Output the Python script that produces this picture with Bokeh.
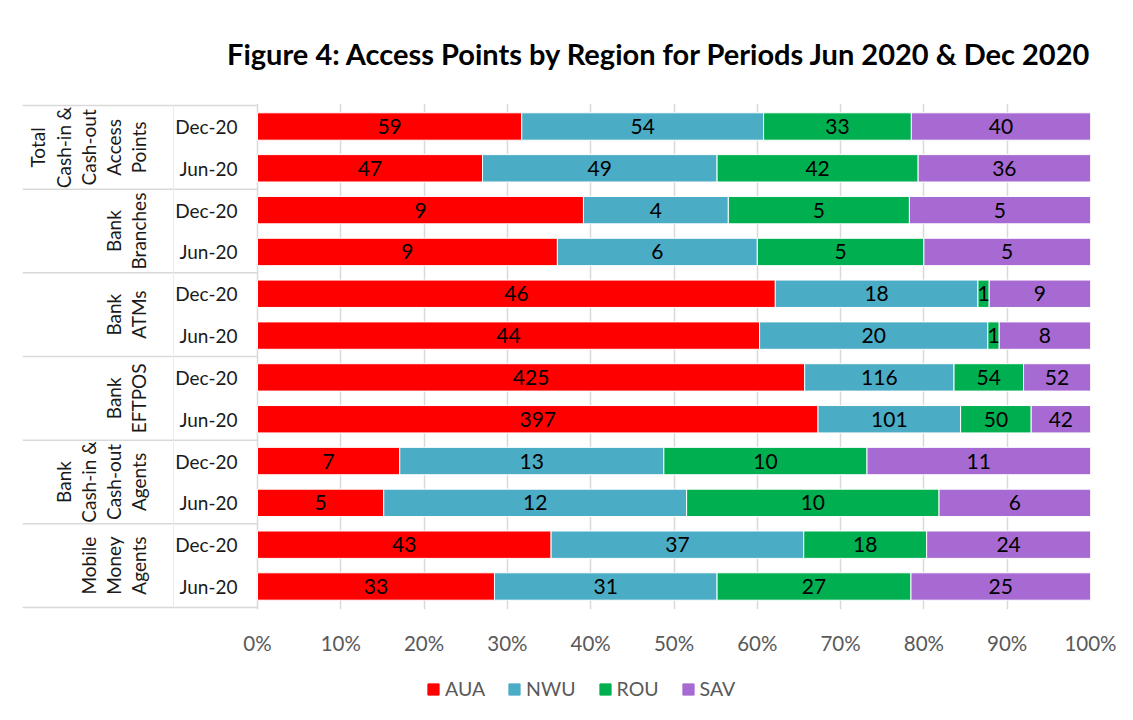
import numpy as np
from bokeh.plotting import figure
from bokeh.layouts import column
from bokeh.models import (ColumnDataSource, Range1d, FixedTicker, NumeralTickFormatter,
                          Legend, LegendItem)
from bokeh.core.properties import value
from bokeh.embed import file_html
from bokeh.resources import INLINE

# ---------------- data ----------------
groups = ["Total\nCash-in &\nCash-out\nAccess\nPoints", "Bank\nBranches", "Bank\nATMs",
          "Bank\nEFTPOS", "Bank\nCash-in &\nCash-out\nAgents", "Mobile\nMoney\nAgents"]
periods = ["Dec-20", "Jun-20"]
regions = ["AUA", "NWU", "ROU", "SAV"]
AUA = [59, 47, 9, 9, 46, 44, 425, 397, 7, 5, 43, 33]
NWU = [54, 49, 4, 6, 18, 20, 116, 101, 13, 12, 37, 31]
ROU = [33, 42, 5, 5, 1, 1, 54, 50, 10, 10, 18, 27]
SAV = [40, 36, 5, 5, 9, 8, 52, 42, 11, 6, 24, 25]
x_ticks = [0, 0.1, 0.2, 0.3, 0.4, 0.5, 0.6, 0.7, 0.8, 0.9, 1.0]
colors = ["#FF0000", "#4BACC6", "#00B050", "#A66AD2"]

FONT = "Lato"
series = [AUA, NWU, ROU, SAV]
n = len(AUA)
totals = np.array(AUA) + np.array(NWU) + np.array(ROU) + np.array(SAV)
row_y = [n - i - 0.5 for i in range(n)]
row_labels = [periods[i % 2] for i in range(n)]

data = {"y": row_y}
for r, s in zip(regions, series):
    data[r] = list(np.array(s) / totals)
src = ColumnDataSource(data)

x0 = -(257 - 22) / 833.0
p = figure(frame_width=1068, frame_height=506, output_backend="svg", toolbar_location=None,
           x_range=Range1d(x0, 1.0), y_range=Range1d(-0.05, n + 0.05),
           min_border_left=22, min_border_right=43, min_border_top=103, min_border_bottom=61)
p.outline_line_color = None
p.background_fill_color = "white"
p.border_fill_color = "white"

# title
p.title.text = "Figure 4:  Access Points by Region for Periods Jun 2020 & Dec 2020"
p.title.text_font = FONT
p.title.text_font_size = "29px"
p.title.text_font_style = "bold"
p.title.text_color = "black"
p.title.align = "right"
p.title.offset = -9
p.title.standoff = 66

# bars
rends = p.hbar_stack(regions, y="y", height=0.655, color=colors, source=src,
                     line_color="white", line_width=1)

# value labels
cum = np.zeros(n)
for r, s in zip(regions, series):
    frac = np.array(s) / totals
    lsrc = ColumnDataSource(dict(x=cum + frac / 2, y=row_y, t=[str(v) for v in s]))
    p.text(x="x", y="y", text="t", source=lsrc, text_font=value(FONT),
           text_font_size="21px", text_align="center", text_baseline="middle",
           text_color="black")
    cum = cum + frac

# period labels
psrc = ColumnDataSource(dict(x=[(237 - 257) / 833.0] * n, y=row_y, t=row_labels))
p.text(x="x", y="y", text="t", source=psrc, text_font=value(FONT), text_font_size="19px",
       text_align="right", text_baseline="middle", text_color="#1a1a1a")

# group labels (rotated, multi-line)
gy = [n - 2 * g - 1 for g in range(len(groups))]
gsrc = ColumnDataSource(dict(x=[(150 - 257) / 833.0] * len(groups), y=gy, t=groups))
p.text(x="x", y="y", text="t", source=gsrc, angle=np.pi / 2, text_font=value(FONT),
       text_font_size="19px", text_align="center", text_baseline="bottom",
       text_line_height=1.1, text_color="#1a1a1a")

# separator lines of the category axis
sep_y = [n - 2 * g for g in range(len(groups) + 1)]
p.segment(x0=[x0] * len(sep_y), x1=[0] * len(sep_y), y0=sep_y, y1=sep_y,
          line_color="#d9d9d9", line_width=1.5)
p.segment(x0=[(173 - 257) / 833.0], x1=[(173 - 257) / 833.0], y0=[0], y1=[n],
          line_color="#ececec", line_width=1)

# axes
p.yaxis.visible = False
p.ygrid.grid_line_color = None
p.xaxis.ticker = FixedTicker(ticks=x_ticks)
p.xaxis.formatter = NumeralTickFormatter(format="0%")
p.xaxis.axis_line_color = None
p.xaxis.major_tick_line_color = None
p.xaxis.minor_tick_line_color = None
p.xaxis.major_tick_out = 0
p.xaxis.major_label_standoff = 21
p.xaxis.major_label_text_font = FONT
p.xaxis.major_label_text_font_size = "20.5px"
p.xaxis.major_label_text_color = "#595959"
p.xgrid.ticker = FixedTicker(ticks=x_ticks)
p.xgrid.grid_line_color = "#d9d9d9"
p.xgrid.grid_line_width = 1.5

# legend strip (separate small figure below the chart)
lg = figure(width=1133, height=50, output_backend="svg", toolbar_location=None,
            x_range=Range1d(0, 1), y_range=Range1d(0, 1),
            min_border_left=0, min_border_right=0, min_border_top=0, min_border_bottom=0)
lg.axis.visible = False
lg.grid.visible = False
lg.outline_line_color = None
lg.border_fill_color = "white"
items = []
for r, c in zip(regions, colors):
    # legend swatch renderer: a single bar kept outside the visible range
    rd = lg.hbar(y=[-5], left=[0], right=[0.1], height=0.5, color=c)
    items.append(LegendItem(label=r, renderers=[rd]))
legend = Legend(items=items, orientation="horizontal", location=(404, 20),
                label_text_font=FONT, label_text_font_size="19.5px",
                label_text_color="#595959", glyph_width=14, glyph_height=14,
                label_standoff=5, spacing=22, border_line_color=None,
                background_fill_alpha=0, padding=2, margin=0)
lg.add_layout(legend, "center")

layout = column(p, lg, spacing=0)
open("out.html", "w").write(file_html(layout, INLINE))
